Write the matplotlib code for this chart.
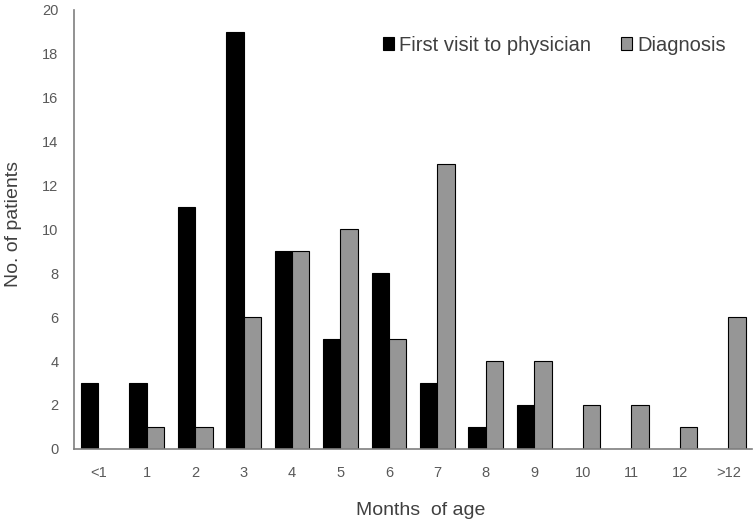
from matplotlib import pyplot as plt
import numpy as np

# Data
#---------------------------------------------------------------------------
months = ['<1', '1', '2', '3', '4', '5', '6', '7', '8', '9', '10', '11', '12', '>12']
first_visit = [3, 3, 11, 19, 9, 5, 8, 3, 1, 2, 0, 0, 0, 0]
diagnosis = [0, 1, 1, 6, 9, 10, 5, 13, 4, 4, 2, 2, 1, 6]
#---------------------------------------------------------------------------

plt.rcParams['font.family'] = ['Liberation Sans', 'DejaVu Sans']

fig = plt.figure(figsize=(7.54, 5.25), dpi=100)
ax = fig.add_axes([0.098, 0.145, 0.9, 0.836])

x = np.arange(len(months))
w = 0.36
ax.bar(x - w/2, first_visit, w, color='black', edgecolor='black', linewidth=0.8,
       label='First visit to physician')
ax.bar(x + w/2, diagnosis, w, color='#969696', edgecolor='black', linewidth=0.8,
       label='Diagnosis')

ax.set_xlim(-0.5, len(months) - 0.5)
ax.set_ylim(0, 20)
ax.set_yticks(range(0, 21, 2))
ax.set_xticks(x)
ax.set_xticklabels(months)
ax.tick_params(length=0, labelsize=10.5, labelcolor='#595959')
ax.tick_params(axis='y', pad=11)
ax.tick_params(axis='x', pad=12)

for s in ['top', 'right']:
    ax.spines[s].set_visible(False)
for s in ['left', 'bottom']:
    ax.spines[s].set_color('#7f7f7f')
    ax.spines[s].set_linewidth(1.2)

ax.set_xlabel('Months  of age', fontsize=14, color='#404040', labelpad=16)
ax.xaxis.label.set_x(0.511)
ax.set_ylabel('No. of patients', fontsize=14, color='#404040')
ax.yaxis.set_label_coords(-0.076, 0.5125)

ax.legend(loc='center left', bbox_to_anchor=(0.429, 0.92), frameon=False, ncol=2,
          fontsize=14.5, handlelength=0.55, handleheight=0.55, handletextpad=0.26,
          columnspacing=1.45, labelcolor='#404040')

plt.savefig('out.png', dpi=100)
